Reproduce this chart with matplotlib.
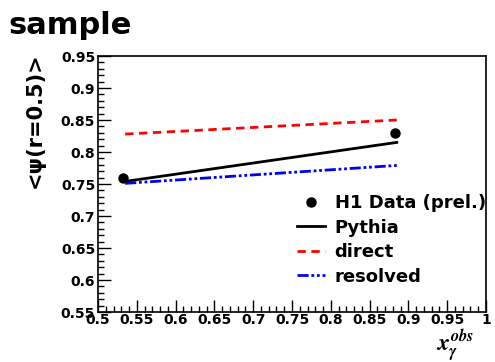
import numpy as np
import matplotlib.pyplot as plt
from matplotlib.ticker import MultipleLocator
from matplotlib.lines import Line2D

plt.rcParams['font.family'] = ['DejaVu Sans']
plt.rcParams['font.weight'] = 'bold'
plt.rcParams['mathtext.fontset'] = 'stix'

# data points and model curves (x_gamma^obs, <psi(r=0.5)>)
data_x = [0.532, 0.883]
data_y = [0.760, 0.830]
model_x = [0.535, 0.885]
pythia = [0.754, 0.815]
direct = [0.828, 0.850]
resolved = [0.751, 0.779]

xtick_vals = np.arange(0.5, 1.001, 0.05)
xtick_labels = ['0.5', '0.55', '0.6', '0.65', '0.7', '0.75', '0.8', '0.85', '0.9', '0.95', '1']
ytick_vals = np.arange(0.55, 0.951, 0.05)
ytick_labels = ['0.55', '0.6', '0.65', '0.7', '0.75', '0.8', '0.85', '0.9', '0.95']

dash = (0, (3, 2))
dashdot = (0, (4, 1, 1, 1, 1, 1))

fig = plt.figure(figsize=(4.95, 3.62), dpi=100)
ax = fig.add_axes([98 / 495, 50 / 362, 388 / 495, 256 / 362])

ax.plot(model_x, pythia, color='black', lw=2)
ax.plot(model_x, direct, color='red', lw=2, ls=dash)
ax.plot(model_x, resolved, color='blue', lw=2, ls=dashdot)
ax.plot(data_x, data_y, 'o', color='black', ms=6.5)

ax.set_xlim(0.5, 1.0)
ax.set_ylim(0.55, 0.95)
ax.set_xticks(xtick_vals)
ax.set_xticklabels(xtick_labels)
ax.set_yticks(ytick_vals)
ax.set_yticklabels(ytick_labels)
ax.xaxis.set_minor_locator(MultipleLocator(0.01))
ax.yaxis.set_minor_locator(MultipleLocator(0.01))
ax.tick_params(which='both', direction='in', top=False, right=False,
               labelsize=10, width=1)
ax.tick_params(which='major', length=9)
ax.tick_params(which='minor', length=4.5)
ax.tick_params(axis='x', pad=1)
ax.tick_params(axis='y', pad=2)
for s in ax.spines.values():
    s.set_linewidth(1.2)

fig.text(35 / 495, 1 - 120 / 362, '<ψ(r=0.5)>', rotation=90, ha='center',
         va='center', fontsize=15, fontweight='bold')
fig.text(474 / 495, -1.5 / 362, r'$x_{\gamma}^{obs}$', ha='right', va='bottom',
         fontsize=17, fontweight='normal')
fig.text(8 / 495, 1 - 11 / 362, 'sample', ha='left', va='top', fontsize=22,
         fontweight='bold')

handles = [
    Line2D([], [], marker='o', color='black', ls='none', ms=6.5),
    Line2D([], [], color='black', lw=2),
    Line2D([], [], color='red', lw=2, ls=dash),
    Line2D([], [], color='blue', lw=2, ls=dashdot),
]
labels = ['H1 Data (prel.)', 'Pythia', 'direct', 'resolved']
ax.legend(handles, labels, loc='upper left', bbox_to_anchor=(0.512, 0.46),
          frameon=False, fontsize=13, handlelength=1.55, handletextpad=0.55,
          labelspacing=0.36, borderaxespad=0, borderpad=0)

fig.savefig('out.png', dpi=100)
